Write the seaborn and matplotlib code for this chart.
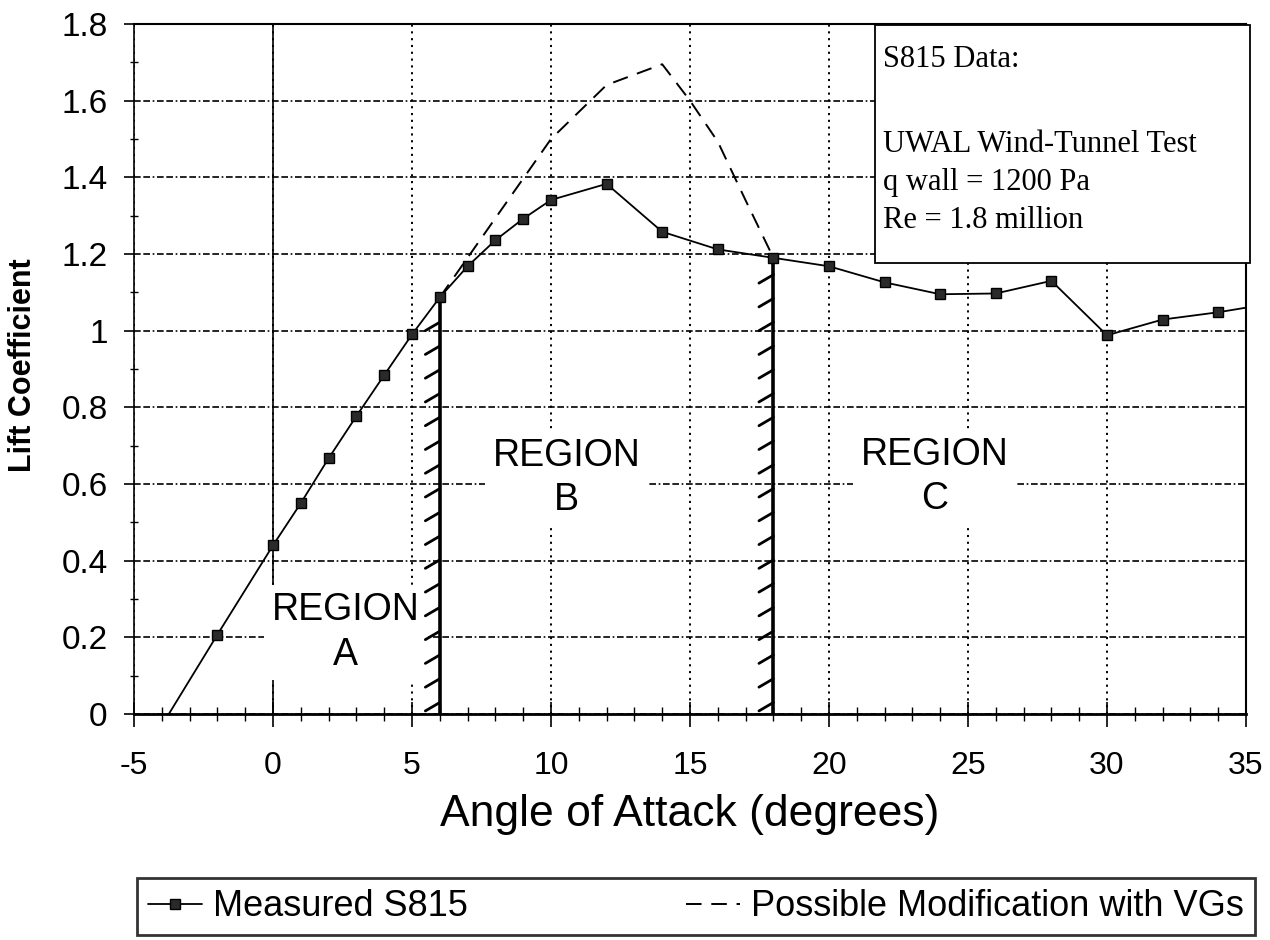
import numpy as np
import pandas as pd
import matplotlib
matplotlib.use("Agg")
import matplotlib.pyplot as plt
from matplotlib.ticker import MultipleLocator
from matplotlib.patches import Rectangle
from matplotlib import font_manager
import seaborn as sns

# ---------------- data ----------------
aoa_measured = [-4, -2, 0, 1, 2, 3, 4, 5, 6, 7, 8, 9, 10, 12, 14, 16, 18, 20, 22, 24, 26, 28, 30, 32, 34, 36]
cl_measured = [-0.03, 0.207, 0.44, 0.55, 0.667, 0.777, 0.884, 0.99, 1.087, 1.168, 1.236, 1.292, 1.341,
               1.383, 1.258, 1.212, 1.19, 1.168, 1.126, 1.095, 1.097, 1.13, 0.988, 1.029, 1.048, 1.072]

aoa_vg = [6, 10, 12, 14, 15, 16, 17, 18]
cl_vg = [1.087, 1.50, 1.641, 1.695, 1.60, 1.493, 1.34, 1.19]

region_bounds = [6, 18]
region_bound_tops = [1.087, 1.19]
region_names = ["REGION\nA", "REGION\nB", "REGION\nC"]
region_label_x = [2.6, 10.55, 23.8]
region_label_y = [0.213, 0.616, 0.619]

x_ticks = [-5, 0, 5, 10, 15, 20, 25, 30, 35]
y_ticks = [0, 0.2, 0.4, 0.6, 0.8, 1.0, 1.2, 1.4, 1.6, 1.8]
y_tick_labels = ["0", "0.2", "0.4", "0.6", "0.8", "1", "1.2", "1.4", "1.6", "1.8"]

info_lines = ["S815 Data:", "UWAL Wind-Tunnel Test", "q wall = 1200 Pa", "Re = 1.8 million"]

series_names = ["Measured S815", "Possible Modification with VGs"]

# ---------------- style ----------------
sns.set_theme(style="white")
plt.rcParams["font.family"] = ["Liberation Sans", "DejaVu Sans"]
plt.rcParams["axes.unicode_minus"] = False

names = {f.name for f in font_manager.fontManager.ttflist}
if "Liberation Sans Narrow" in names:
    ylab_family, ylab_size = ["Liberation Sans Narrow", "Liberation Sans"], 26
else:
    ylab_family, ylab_size = ["Liberation Sans", "DejaVu Sans"], 22

W, H = 1270, 940
fig = plt.figure(figsize=(W / 100, H / 100), dpi=100)
fig.patch.set_facecolor("white")
L, R, T, B = 134, 1246, 24, 714
ax = fig.add_axes([L / W, 1 - B / H, (R - L) / W, (B - T) / H])
ax.set_facecolor("white")

df_m = pd.DataFrame({"aoa": aoa_measured, "cl": cl_measured})
df_v = pd.DataFrame({"aoa": aoa_vg, "cl": cl_vg})

sns.lineplot(data=df_m, x="aoa", y="cl", ax=ax, color="black", lw=1.3, marker="s",
             markersize=7.5, markerfacecolor="#2a2a2a", markeredgecolor="black",
             markeredgewidth=1.0, label=series_names[0], zorder=5)
sns.lineplot(data=df_v, x="aoa", y="cl", ax=ax, color="black", lw=1.4,
             linestyle=(0, (8, 5)), label=series_names[1], zorder=4)

ax.set_xlim(-5, 35)
ax.set_ylim(0, 1.8)

# grid
ax.set_xticks(x_ticks)
ax.set_yticks(y_ticks)
ax.set_yticklabels(y_tick_labels)
ax.xaxis.set_minor_locator(MultipleLocator(1))
ax.yaxis.set_minor_locator(MultipleLocator(0.1))
ax.yaxis.grid(True, which="major", color="black", lw=1.2,
              linestyle=(0, (4, 1.6, 4, 1.6, 1, 1.6)), zorder=1)
ax.xaxis.grid(True, which="major", color="black", lw=1.4, linestyle=(0, (1.1, 2.4)), zorder=1)
ax.set_axisbelow(True)
ax.axvline(0, color="black", lw=1.2, zorder=1.5)

ax.tick_params(axis="x", which="major", direction="inout", length=18, width=1.2,
               colors="black", labelsize=23, pad=18)
ax.tick_params(axis="x", which="minor", direction="inout", length=10, width=1.0, colors="black")
ax.tick_params(axis="y", which="major", direction="out", length=7, width=1.2,
               colors="black", labelsize=24, pad=12)
ax.tick_params(axis="y", which="minor", direction="inout", length=6, width=1.0, colors="black")
ax.tick_params(bottom=True, left=True, which="both")

for side, lw in [("left", 1.2), ("bottom", 2.0), ("top", 1.5), ("right", 1.5)]:
    ax.spines[side].set_color("black")
    ax.spines[side].set_linewidth(lw)
    ax.spines[side].set_visible(True)

ax.set_xlabel("Angle of Attack (degrees)", fontsize=32, color="black", labelpad=9)
ax.set_ylabel("Lift Coefficient", fontsize=ylab_size, fontweight="bold", family=ylab_family,
              color="black")
ax.yaxis.set_label_coords(-0.086, 0.506)

# region boundaries with hatch marks
for xb, top in zip(region_bounds, region_bound_tops):
    ax.plot([xb, xb], [0, top], color="black", lw=2.6, zorder=3.5, solid_capstyle="butt")
    for yh in np.arange(0.03, top - 0.02, 0.062):
        ax.plot([xb - 0.52, xb], [yh - 0.022, yh], color="black", lw=2.0, zorder=3.5,
                solid_capstyle="round")

# region labels
for name, xr, yr in zip(region_names, region_label_x, region_label_y):
    ax.text(xr, yr, name, ha="center", va="center", fontsize=27, color="black",
            linespacing=1.3, zorder=3,
            bbox=dict(facecolor="white", edgecolor="none", boxstyle="square,pad=0.2"))

# info box (top right)
box_x0, box_y0 = (875 - L) / (R - L), (B - 263) / (B - T)
box_x1, box_y1 = (1250 - L) / (R - L), (B - 25) / (B - T)
ax.add_patch(Rectangle((box_x0, box_y0), box_x1 - box_x0, box_y1 - box_y0,
                       transform=ax.transAxes, facecolor="white", edgecolor="black",
                       lw=1.3, zorder=6, clip_on=False))
baselines_px = [67, 152, 190, 228]
for line, bpx in zip(info_lines, baselines_px):
    ax.text((883 - L) / (R - L), (B - bpx) / (B - T), line, transform=ax.transAxes,
            ha="left", va="baseline", fontsize=22, family=["Liberation Serif", "DejaVu Serif"],
            color="black", zorder=7)

# legend below
handles, labels = ax.get_legend_handles_labels()
if ax.get_legend() is not None:
    ax.get_legend().remove()
leg = fig.legend(handles, labels, loc="lower left",
                 bbox_to_anchor=(137 / W, 1 - 935 / H, (1255 - 137) / W, 60 / H),
                 mode="expand", ncol=2, frameon=True, fancybox=False, shadow=False,
                 edgecolor="black", fontsize=26, handlelength=1.5, handletextpad=0.3,
                 borderaxespad=0.0, borderpad=0.3)
leg.get_frame().set_linewidth(2.0)
for t in leg.get_texts():
    t.set_color("black")

fig.savefig("out.png", dpi=100, facecolor="white")
